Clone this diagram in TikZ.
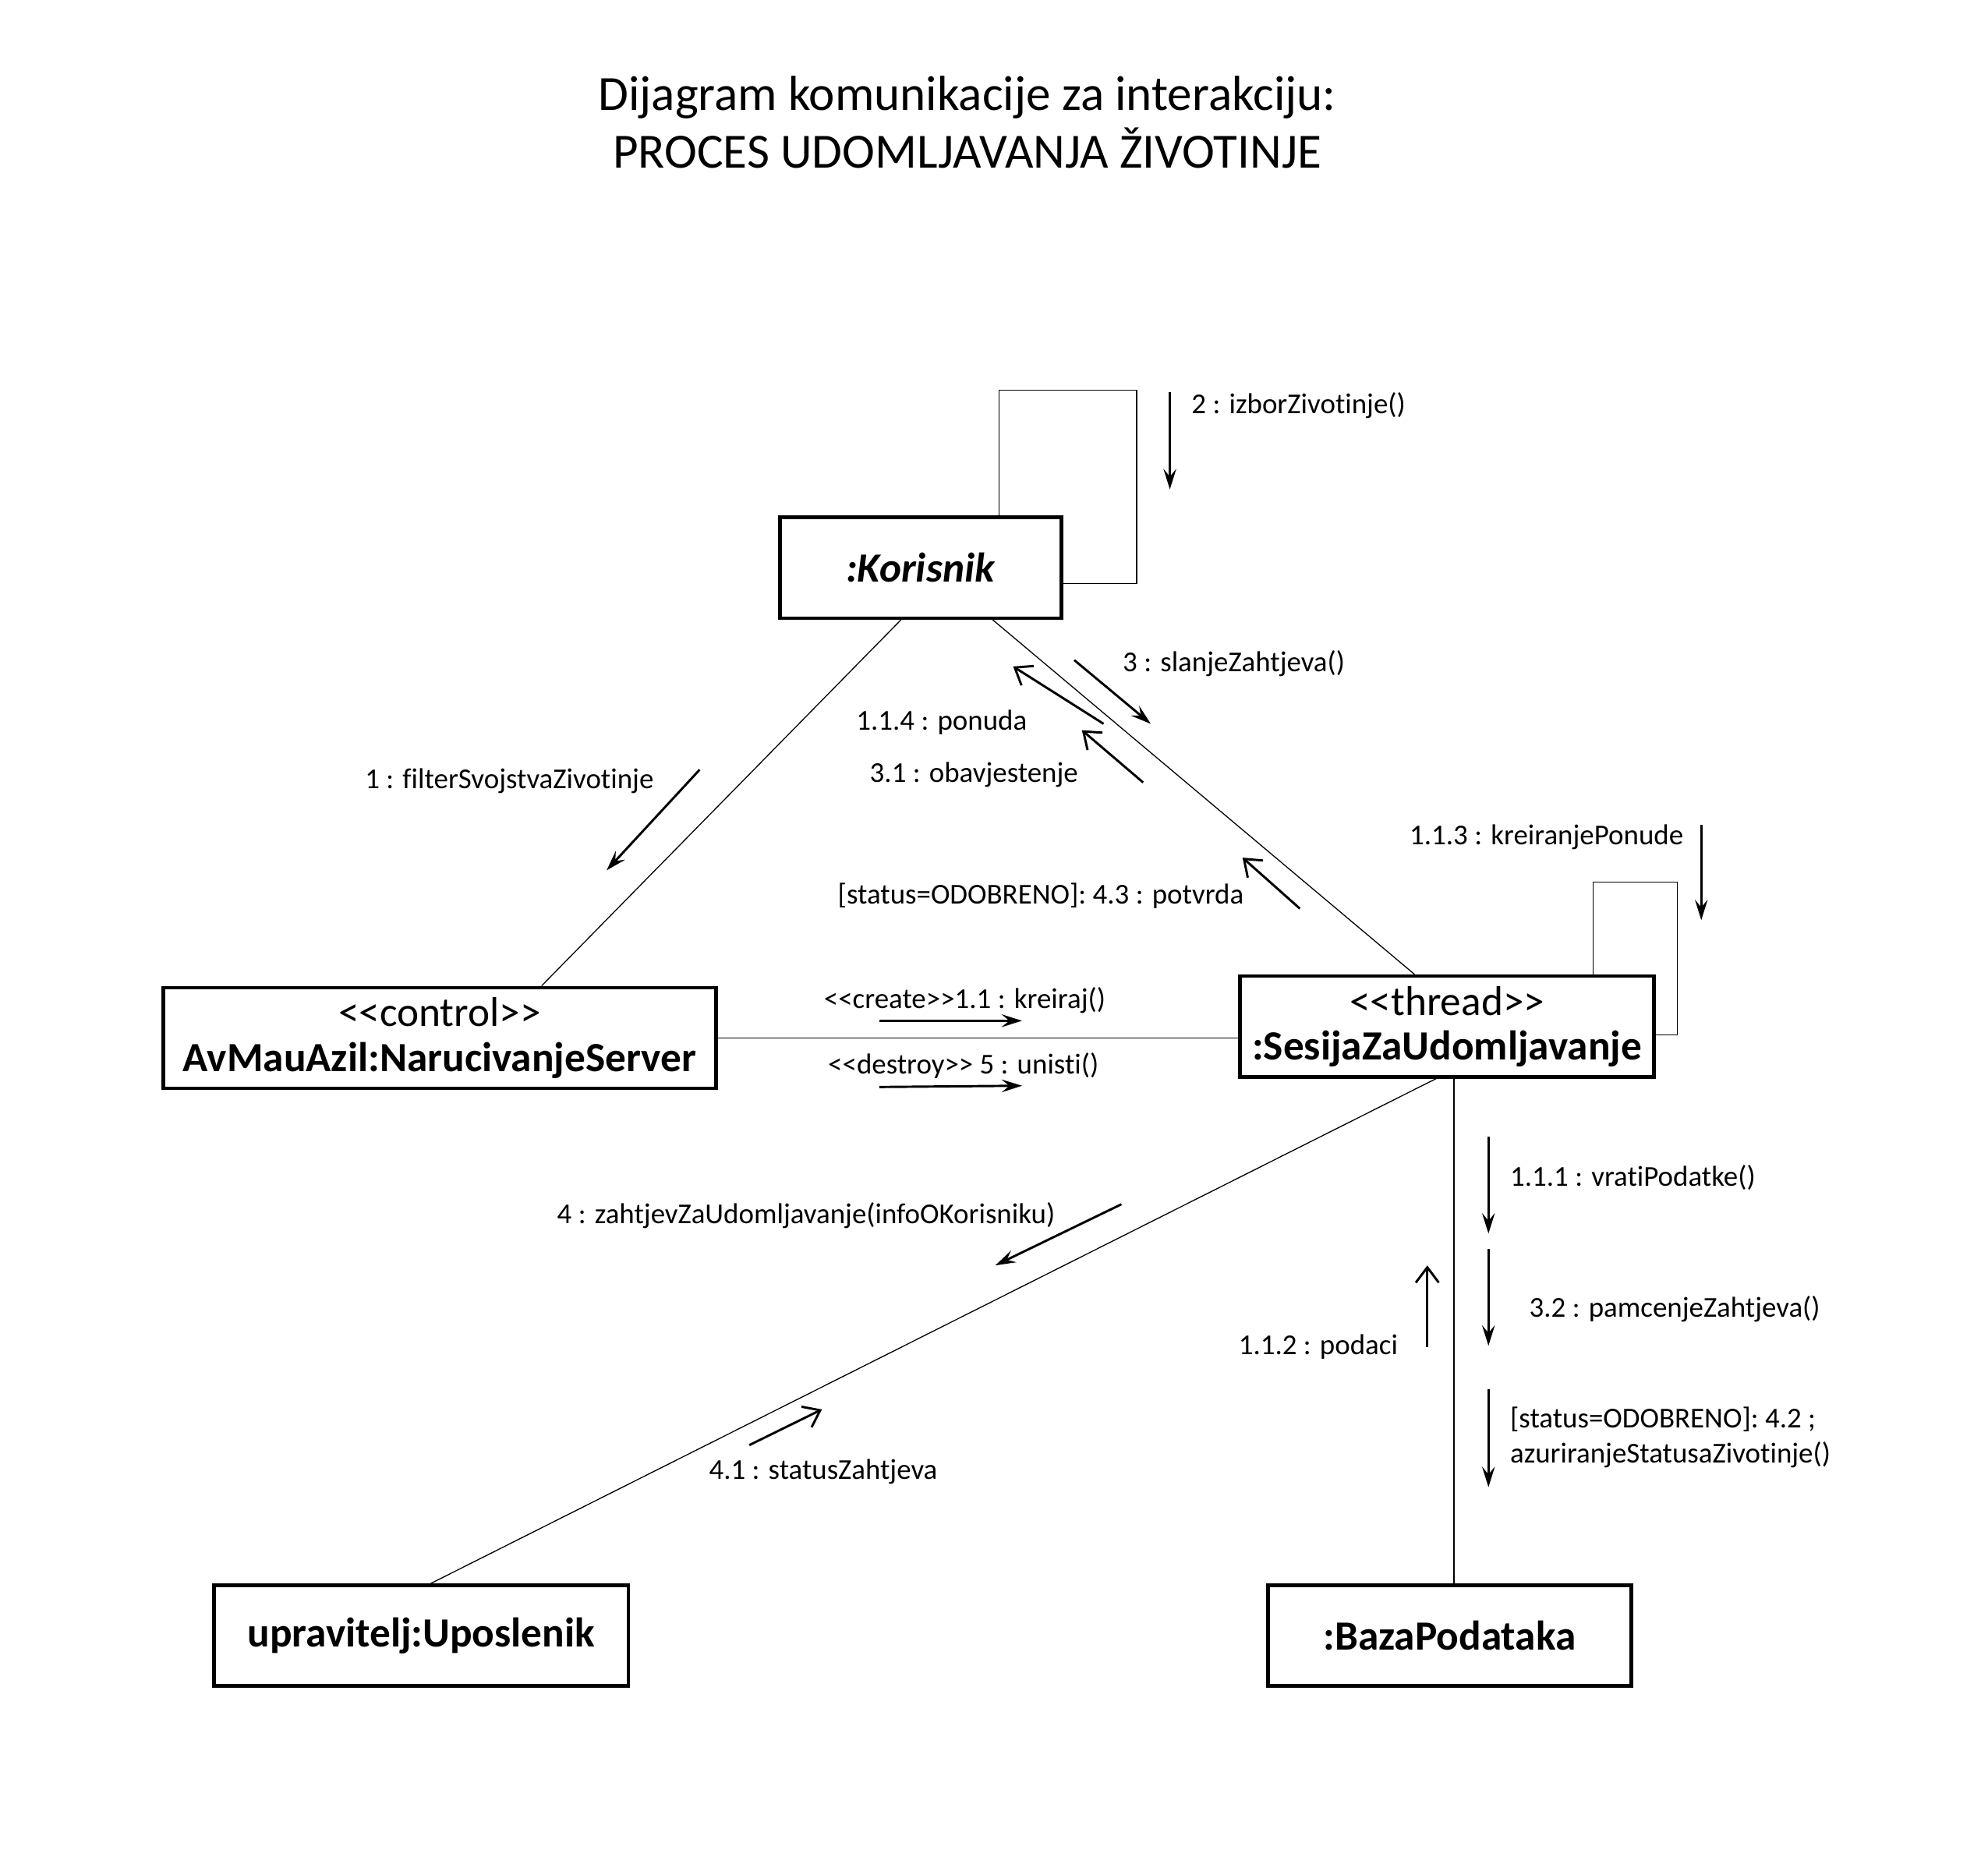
\documentclass[tikz,border=0pt]{standalone}
\usepackage{fontspec}
\setmainfont{Carlito}[Ligatures={TeXOff,NoCommon}]
\usetikzlibrary{arrows.meta}

\begin{document}
\begin{tikzpicture}[x=0.5pt, y=-0.5pt,
  every node/.style={font=\fontsize{11.3}{14}\selectfont},
  obj/.style={draw=black, line width=1.4pt, minimum height=39.5pt, inner sep=0pt, align=center, font=\fontsize{16.3}{17.5}\selectfont},
  link/.style={draw=black, line width=0.4pt},
  msg/.style={line width=0.9pt, -{Stealth[length=8pt, width=5pt, inset=3pt]}},
  ret/.style={line width=0.9pt, -{Straight Barb[length=6pt, width=9pt, line width=0.9pt]}}]
\useasboundingbox (0,0) rectangle (1560,1468);
% Title
\node[align=center, font=\fontsize{19.3}{22.5}\selectfont] (title) at (759,96) {Dijagram komunikacije za interakciju:\\PROCES UDOMLJAVANJA ŽIVOTINJE};
% Objects
\node[obj, minimum width=110.5pt] (korisnik) at (722.5,445.5) {\textbf{\textit{:Korisnik}}};
\node[obj, minimum width=217pt] (server) at (345,814.5) {<<control>>\\\textbf{AvMauAzil:NarucivanjeServer}};
\node[obj, minimum width=162.5pt] (sesija) at (1135.5,805.5) {<<thread>>\\\textbf{:SesijaZaUdomljavanje}};
\node[obj, minimum width=162.5pt] (upravitelj) at (330.5,1283.5) {\textbf{upravitelj:Uposlenik}};
\node[obj, minimum width=142.5pt] (baza) at (1137.5,1283.5) {\textbf{:BazaPodataka}};
% Links
\draw[link] ([xshift=-7.75pt]korisnik.south) -- ([xshift=40pt]server.north);
\draw[link] ([xshift=28.25pt]korisnik.south) -- ([xshift=-12.75pt]sesija.north);
\draw[link] (server.east) -- (server.east -| sesija.west);
\draw[link] ([xshift=-4.25pt]sesija.south) -- ([xshift=3.75pt]upravitelj.north);
\draw[link] ([xshift=2.75pt]sesija.south) -- ([xshift=2.75pt]sesija.south |- baza.north);
% Self links
\coordinate (kl1) at (784,306);
\coordinate (kl2) at (892,458);
\draw[link] (kl1 |- korisnik.north) |- (kl2 |- kl1) -- (kl2) -- (kl2 -| korisnik.east);
\coordinate (sl1) at (1250,692);
\coordinate (sl2) at (1316,812);
\draw[link] (sl1 |- sesija.north) |- (sl2 |- sl1) -- (sl2) -- (sl2 -| sesija.east);
% Messages
\coordinate (m2a) at (918,308); \coordinate (m2b) at (918,384);
\draw[msg] (m2a) -- (m2b);
\node[anchor=west] (l2) at (928,318) {2 : izborZivotinje()};
\coordinate (m1a) at (549,604); \coordinate (m1b) at (476,683);
\draw[msg] (m1a) -- (m1b);
\node[anchor=east] (l1) at (520,613) {1 : filterSvojstvaZivotinje};
\coordinate (m3a) at (843,518); \coordinate (m3b) at (903,568);
\draw[msg] (m3a) -- (m3b);
\node[anchor=west] (l3) at (874,521) {3 : slanjeZahtjeva()};
\coordinate (m114a) at (866,568); \coordinate (m114b) at (795,523);
\draw[ret] (m114a) -- (m114b);
\node[anchor=east] (l114) at (813,567) {1.1.4 : ponuda};
\coordinate (m31a) at (897,614); \coordinate (m31b) at (849,573);
\draw[ret] (m31a) -- (m31b);
\node[anchor=east] (l31) at (853,608) {3.1 : obavjestenje};
\coordinate (m43a) at (1020,713); \coordinate (m43b) at (975,673);
\draw[ret] (m43a) -- (m43b);
\node[anchor=east] (l43) at (983,703) {[status=ODOBRENO]: 4.3 : potvrda};
\coordinate (m113a) at (1335,647); \coordinate (m113b) at (1335,722);
\draw[msg] (m113a) -- (m113b);
\node[anchor=east] (l113) at (1328,657) {1.1.3 : kreiranjePonude};
\coordinate (m11a) at (690,801); \coordinate (m11b) at (802,801);
\draw[msg] (m11a) -- (m11b);
\node (l11) at (757,785) {<<create>>1.1 : kreiraj()};
\coordinate (m5a) at (690,853); \coordinate (m5b) at (802,852);
\draw[msg] (m5a) -- (m5b);
\node (l5) at (756,836) {<<destroy>> 5 : unisti()};
\coordinate (m4a) at (880,945); \coordinate (m4b) at (781,993);
\draw[msg] (m4a) -- (m4b);
\node[anchor=east] (l4) at (835,954) {4 : zahtjevZaUdomljavanje(infoOKorisniku)};
\coordinate (m41a) at (588,1134); \coordinate (m41b) at (645,1106);
\draw[ret] (m41a) -- (m41b);
\node (l41) at (646,1155) {4.1 : statusZahtjeva};
\coordinate (m111a) at (1168,892); \coordinate (m111b) at (1168,968);
\draw[msg] (m111a) -- (m111b);
\node[anchor=west] (l111) at (1178,924) {1.1.1 : vratiPodatke()};
\coordinate (m112a) at (1120,1057); \coordinate (m112b) at (1120,993);
\draw[ret] (m112a) -- (m112b);
\node[anchor=east] (l112) at (1104,1057) {1.1.2 : podaci};
\coordinate (m32a) at (1168,980); \coordinate (m32b) at (1168,1056);
\draw[msg] (m32a) -- (m32b);
\node[anchor=west] (l32) at (1193,1027) {3.2 : pamcenjeZahtjeva()};
\coordinate (m42a) at (1168,1090); \coordinate (m42b) at (1168,1167);
\draw[msg] (m42a) -- (m42b);
\node[anchor=west, align=left] (l42) at (1178,1128) {[status=ODOBRENO]: 4.2 ;\\azuriranjeStatusaZivotinje()};
\end{tikzpicture}
\end{document}
